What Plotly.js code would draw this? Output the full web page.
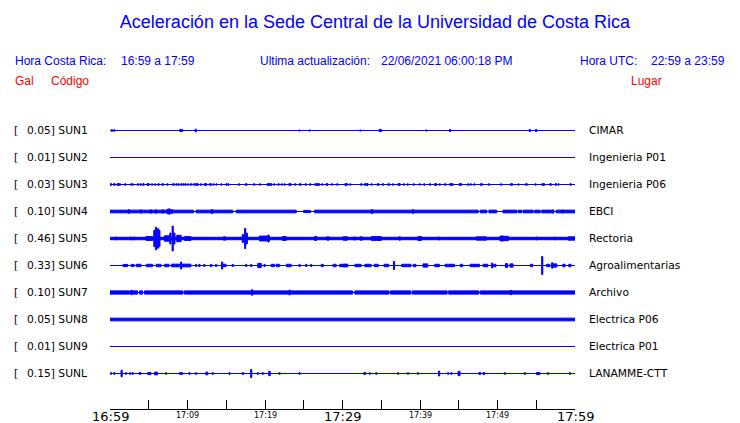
<!DOCTYPE html>
<html><head><meta charset="utf-8">
<script src="https://cdn.plot.ly/plotly-3.0.1.min.js"></script>
<style>html,body{margin:0;padding:0;background:#fff}#chart{width:740px;height:423px}</style>
</head><body><div id="chart"></div>
<script>
// ---------------- data ----------------
const stationCodes = ['SUN1','SUN2','SUN3','SUN4','SUN5','SUN6','SUN7','SUN8','SUN9','SUNL'];
const peakGal = [0.05,0.01,0.03,0.10,0.46,0.33,0.10,0.05,0.01,0.15];
const places = ['CIMAR','Ingenieria P01','Ingenieria P06','EBCI','Rectoria','Agroalimentarias','Archivo','Electrica P06','Electrica P01','LANAMME-CTT'];
const tickMinutes = [0,5,10,15,20,25,30,35,40,45,50,55,60];
const tickLabels = ['16:59','17:09','17:19','17:29','17:39','17:49','17:59'];
const tickLabelMinutes = [0,10,20,30,40,50,60];
const majorTickLabels = ['16:59','17:29','17:59'];

// envelope segments read from the record: [centre minute after 16:59, duration (min), half amplitude (Gal)]
const sun1Env = [[0.25,0.15,0.03],[0.56,0.15,0.03],[9.08,0.15,0.04],[9.3,0.15,0.04],[11.06,0.15,0.05],[24.46,0.15,0.02],[25.75,0.15,0.02],[32.3,0.15,0.02],[34.88,0.3,0.04],[40.83,0.15,0.02],[43.88,0.15,0.04],[54.17,0.15,0.04],[54.99,0.15,0.04]];
const sun2Env = [[30,60,0.01]];
const sun3Env = [[0.1,0.2,0.03],[0.56,0.2,0.03],[1.12,0.43,0.03],[1.98,0.15,0.03],[2.71,0.15,0.025],[2.92,0.15,0.025],[3.61,0.15,0.03],[3.96,0.15,0.025],[4.30,0.2,0.03],[4.91,0.3,0.03],[5.42,0.15,0.025],[5.85,0.15,0.025],[6.28,0.15,0.03],[6.80,0.2,0.03],[7.40,0.15,0.025],[8.18,0.2,0.03],[8.57,0.15,0.03],[8.87,0.15,0.025],[9.21,0.15,0.03],[9.47,0.15,0.025],[9.73,0.15,0.03],[10.08,0.15,0.025],[10.46,0.15,0.03],[10.81,0.15,0.025],[11.19,0.4,0.03],[11.75,0.15,0.025],[12.31,0.35,0.03],[12.96,0.25,0.03],[13.35,0.15,0.025],[13.74,0.15,0.025],[14.38,0.15,0.025],[15.03,0.15,0.03],[15.29,0.15,0.025],[16.67,0.15,0.025],[17.57,0.2,0.03],[18.60,0.15,0.03],[19.38,0.15,0.025],[20.58,0.6,0.03],[21.19,0.15,0.025],[21.75,0.15,0.03],[22.18,0.15,0.025],[22.52,0.15,0.025],[23.21,0.3,0.03],[23.90,0.15,0.025],[24.55,0.2,0.03],[25.24,0.15,0.025],[25.84,0.15,0.03],[26.74,0.6,0.03],[27.39,0.15,0.025],[27.99,0.25,0.03],[28.64,0.15,0.025],[29.33,0.15,0.025],[30.47,0.35,0.03],[31.00,0.15,0.025],[32.42,0.15,0.03],[33.07,0.45,0.03],[33.76,0.15,0.025],[34.58,0.2,0.03],[35.22,0.15,0.03],[35.96,0.2,0.03],[36.52,0.15,0.025],[37.29,0.3,0.03],[37.94,0.15,0.025],[38.41,0.15,0.025],[39.19,0.15,0.025],[39.96,0.15,0.025],[40.56,0.15,0.025],[41.30,0.15,0.03],[42.03,0.3,0.03],[42.55,0.15,0.025],[43.23,0.15,0.03],[44.05,0.45,0.03],[45.22,0.35,0.03],[46.21,0.15,0.025],[46.55,0.15,0.025],[47.03,0.15,0.025],[47.93,0.25,0.03],[48.88,0.15,0.025],[50.47,0.15,0.025],[51.81,0.25,0.03],[52.71,0.15,0.025],[53.74,0.2,0.03],[54.91,0.15,0.025],[55.90,0.35,0.03],[56.85,0.2,0.03],[57.53,0.2,0.03],[57.88,0.15,0.025],[59.43,0.15,0.03]];
const sun4Env = [[5.38,10.76,0.05],[13.48,4.74,0.05],[20.155,7.75,0.05],[25.44,0.92,0.04],[36.95,21.1,0.05],[48.2,0.8,0.05],[49.4,1.0,0.05],[51.6,1.8,0.05],[52.9,0.4,0.05],[53.95,1.3,0.05],[55.15,0.7,0.05],[56.45,1.5,0.05],[58.8,2.4,0.05],
  [2.41,0.15,0.065],[4.0,0.15,0.06],[5.29,0.15,0.06],[5.94,0.15,0.06],[6.8,0.15,0.06],[7.45,0.2,0.08],[7.66,0.15,0.10],[7.96,0.15,0.07],[13.17,0.15,0.07],[33.80,0.15,0.07],[39.1,0.15,0.065],[57.19,0.15,0.06],[58.4,0.15,0.055]];
const sun5Env = [[30,60,0.045],
  [0.77,0.15,0.05],[2.71,0.15,0.05],[3.14,0.15,0.05],[5.08,0.86,0.07],[5.72,0.15,0.3],[5.94,0.15,0.42],[6.2,0.15,0.36],[6.37,0.15,0.3],[7.34,0.64,0.1],[7.79,0.15,0.2],[8.09,0.15,0.46],[8.31,0.15,0.2],[8.89,0.56,0.12],[10.03,0.86,0.07],[14.77,0.3,0.06],[17.14,0.15,0.15],[17.44,0.15,0.37],[17.65,0.15,0.2],[19.94,1.29,0.09],[20.45,0.15,0.13],[22.48,0.52,0.07],[26.53,0.3,0.07],[28.12,0.3,0.06],[30.49,0.3,0.06],
  [30.27,0.4,0.06],[31.56,0.3,0.05],[32.42,0.3,0.06],[34.37,1.29,0.07],[37.38,0.2,0.06],[39.96,0.5,0.07],[42.46,0.15,0.05],[47.93,1.3,0.06],[50.85,1.1,0.08],[50.6,0.15,0.1],[55.04,0.15,0.05],[57.4,0.15,0.05],[59.55,0.9,0.06]];
const sun6Env = [[1.98,0.6,0.04],[2.92,0.4,0.04],[3.7,0.6,0.045],[5.08,0.8,0.045],[6.28,0.6,0.045],[7.32,0.6,0.045],[8.44,1.0,0.05],[9.17,0.15,0.13],[9.73,1.4,0.05],[11.11,0.15,0.04],[11.54,0.15,0.04],[12.18,0.15,0.04],[13.05,0.2,0.04],[13.69,0.15,0.04],[14.47,0.15,0.13],[14.68,0.6,0.045],[15.85,0.15,0.04],[17.57,0.15,0.04],[18.22,0.15,0.04],[19.29,0.45,0.08],[19.94,0.15,0.04],[21.0,0.4,0.045],[21.66,0.4,0.045],[23.08,0.6,0.045],[24.46,0.15,0.04],[25.32,0.15,0.04],[25.97,0.15,0.04],[27.39,0.25,0.045],[28.98,0.4,0.045],[30.4,0.6,0.045],
  [30.14,1.0,0.045],[32.0,0.8,0.045],[33.29,0.8,0.045],[34.36,0.5,0.045],[35.66,0.6,0.045],[36.65,0.15,0.15],[38.24,1.2,0.045],[39.32,0.3,0.045],[40.69,0.6,0.06],[42.2,0.6,0.045],[43.84,1.2,0.045],[45.35,0.3,0.045],[47.07,1.2,0.045],[48.45,0.6,0.045],[49.31,0.15,0.09],[49.65,0.3,0.045],[51.16,0.3,0.07],[51.81,0.4,0.06],[54.39,0.3,0.045],[55.77,0.15,0.33],[56.54,0.4,0.045],[57.06,0.15,0.1],[57.4,0.5,0.06],[58.57,0.3,0.045],[59.34,0.3,0.045]];
const sun7Env = [[1.25,2.5,0.06],[3.075,0.95,0.06],[4.0,0.4,0.06],[6.925,4.95,0.06],[20.45,21.7,0.06],[33.8,4.4,0.06],[37.5,2.6,0.06],[41.25,4.5,0.06],[45.65,3.9,0.06],[53.9,12.2,0.06],
  [2.8,0.15,0.08],[18.34,0.15,0.10],[23.17,0.15,0.09],[51.72,0.15,0.08]];
const sun8Env = [[30,60,0.05]];
const sun9Env = [[30,60,0.01]];
const sunLEnv = [[0.13,0.15,0.03],[0.56,0.15,0.03],[1.5,0.15,0.12],[2.06,0.15,0.03],[2.58,0.15,0.03],[2.92,0.15,0.03],[3.87,0.25,0.03],[5.08,0.4,0.04],[5.94,0.4,0.05],[7.23,0.15,0.03],[9.17,0.4,0.03],[10.25,0.15,0.03],[11.11,0.15,0.03],[12.49,0.25,0.05],[13.26,0.15,0.03],[15.42,0.15,0.03],[17.14,0.2,0.03],[18.22,0.15,0.15],[19.08,0.15,0.03],[19.72,0.15,0.03],[20.58,0.2,0.08],[21.88,0.15,0.03],[24.46,0.15,0.03],
  [32.86,0.2,0.04],[33.5,0.15,0.03],[34.36,0.15,0.03],[37.16,0.15,0.03],[38.45,0.15,0.03],[39.75,0.15,0.03],[42.46,0.15,0.09],[43.62,0.15,0.03],[44.05,0.15,0.03],[45.04,0.25,0.08],[47.71,0.2,0.04],[48.23,0.2,0.04],[50.94,0.15,0.03],[53.53,0.15,0.03],[55.25,0.4,0.04],[56.54,0.15,0.03],[59.34,0.15,0.03]];
const envelopes = [sun1Env,sun2Env,sun3Env,sun4Env,sun5Env,sun6Env,sun7Env,sun8Env,sun9Env,sunLEnv];

// ---------------- drawing ----------------
const BLUE = '#0000ff', RED = '#ff0000';
const W = 740, H = 423;
const M = {l:110, r:165, t:100, b:14};
const plotW = W - M.l - M.r, plotH = H - M.t - M.b;
const px2paperX = px => (px - M.l) / plotW;
const px2paperY = py => (H - M.b - py) / plotH;

const traces = [];
envelopes.forEach((env, i) => {
  traces.push({type:'scatter', mode:'lines', x:[0,60], y:[-i,-i],
    line:{color:BLUE, width:1}, hoverinfo:'skip'});
  traces.push({type:'bar', x:env.map(s=>s[0]), width:env.map(s=>s[1]),
    base:env.map(s=>-i - s[2]), y:env.map(s=>2*s[2]),
    marker:{color:BLUE, line:{width: peakGal[i] > 0.02 ? 1 : 0, color:BLUE}}, hoverinfo:'skip'});
});

const annotations = [];
const txt = (text, x, y, opts) => Object.assign({text, x, y, xref:'paper', yref:'paper',
  xanchor:'left', yanchor:'middle', showarrow:false, borderpad:0}, opts||{});
const hdrFont = {family:'Liberation Sans, Arial, sans-serif', size:12, color:BLUE};
const redFont = {family:'Liberation Sans, Arial, sans-serif', size:12, color:RED};
annotations.push(txt('Hora Costa Rica:', px2paperX(14), px2paperY(61), {font:hdrFont}));
annotations.push(txt('16:59 a 17:59', px2paperX(119.5), px2paperY(61), {font:hdrFont}));
annotations.push(txt('Ultima actualización:', px2paperX(259), px2paperY(61), {font:hdrFont}));
annotations.push(txt('22/06/2021 06:00:18 PM', px2paperX(380), px2paperY(61), {font:hdrFont}));
annotations.push(txt('Hora UTC:', px2paperX(579), px2paperY(61), {font:hdrFont}));
annotations.push(txt('22:59 a 23:59', px2paperX(650), px2paperY(61), {font:hdrFont}));
annotations.push(txt('Gal', px2paperX(14), px2paperY(81), {font:redFont}));
annotations.push(txt('Código', px2paperX(50), px2paperY(81), {font:redFont}));
annotations.push(txt('Lugar', px2paperX(630), px2paperY(81), {font:redFont}));

const lblFont = {family:'DejaVu Sans, sans-serif', size:10.7, color:'#000'};
stationCodes.forEach((code, i) => {
  annotations.push(txt('[', px2paperX(12.5), -i, {yref:'y', font:lblFont}));
  annotations.push(txt(peakGal[i].toFixed(2) + '] ' + code, px2paperX(26), -i, {yref:'y', font:lblFont}));
  annotations.push(txt(places[i], px2paperX(587.5), -i, {yref:'y', font:lblFont}));
});
tickLabels.forEach((lab, k) => {
  const major = majorTickLabels.includes(lab);
  annotations.push({text:lab, x:tickLabelMinutes[k], xref:'x', yref:'paper',
    y: major ? px2paperY(416.5) : px2paperY(415.5), xanchor:'center', yanchor:'middle',
    showarrow:false, borderpad:0,
    font:{family:'DejaVu Sans, sans-serif', size: major ? 13 : 8, color:'#000'}});
});

const layout = {
  width:W, height:H, margin:{l:M.l, r:M.r, t:M.t, b:M.b, pad:0},
  paper_bgcolor:'#fff', plot_bgcolor:'#fff', showlegend:false, barmode:'overlay',
  title:{text:'Aceleración en la Sede Central de la Universidad de Costa Rica',
    x:375/W, xref:'container', xanchor:'center', y:1-22/H, yref:'container', yanchor:'middle',
    font:{family:'Liberation Sans, Arial, sans-serif', size:18, color:BLUE}},
  xaxis:{range:[0,60], showgrid:false, zeroline:false, showline:true, linecolor:'#000', linewidth:1,
    ticks:'inside', ticklen:9, tickwidth:1, tickcolor:'#000', tickvals:tickMinutes,
    showticklabels:false, fixedrange:true},
  yaxis:{range:[-9-35.5/27, 30.5/27], visible:false, fixedrange:true},
  annotations
};
Plotly.newPlot('chart', traces, layout, {staticPlot:true, displayModeBar:false});
</script></body></html>
